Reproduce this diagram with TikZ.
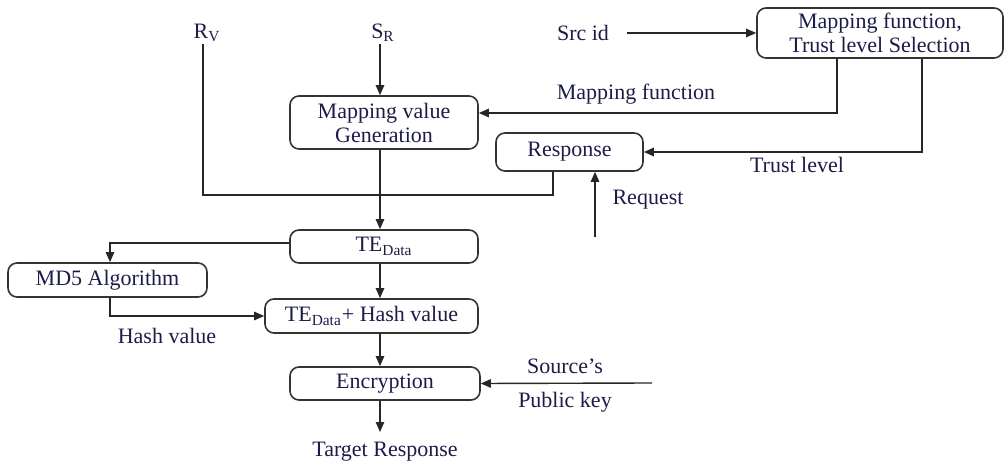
\documentclass[tikz,border=0pt]{standalone}
\usepackage{fontspec}
\setmainfont{Liberation Serif}
\usetikzlibrary{arrows.meta, positioning}
\definecolor{inkblue}{RGB}{28,28,72}
\tikzset{
    block/.style={draw=black!80, line width=0.8pt, rounded corners=4.5pt, align=center,
        text=inkblue, font=\fontsize{11}{12}\selectfont, inner sep=2pt},
    label/.style={text=inkblue, font=\fontsize{11}{12}\selectfont, inner sep=1pt},
    link/.style={draw=black!85, line width=0.7pt},
    arr/.style={link, -{Triangle[length=5pt,width=4.2pt]}}
}
\begin{document}
\begin{tikzpicture}[x=0.5pt, y=-0.5pt]
    \useasboundingbox (0,0) rectangle (1007,464);

    % Boxes
    \node[block, minimum width=123pt, minimum height=25pt] (mfs) at (880,33)
        {Mapping function,\\Trust level Selection};
    \node[block, minimum width=94pt, minimum height=26.5pt] (mvg) at (384,122.5)
        {Mapping value\\Generation};
    \node[block, minimum width=73.5pt, minimum height=19pt] (resp) at (569.5,152) {Response};
    \node[block, minimum width=94pt, minimum height=16.5pt] (ted) at (384,246.5) {TE\textsubscript{Data}};
    \node[block, minimum width=99.5pt, minimum height=17pt] (md5) at (107.5,280) {MD5 Algorithm};
    \node[block, minimum width=106.5pt, minimum height=17pt] (teh) at (371.5,316)
        {TE\textsubscript{Data}+ Hash value};
    \node[block, minimum width=95pt, minimum height=16.5pt] (enc) at (385,383.5) {Encryption};

    % Labels
    \node[label] (rv) at (207,33) {R\textsubscript{V}};
    \node[label] (sr) at (383,33) {S\textsubscript{R}};
    \node[label] (srcid) at (583,33) {Src id};
    \node[label] (mapf) at (636,94) {Mapping function};
    \node[label] (trust) at (797,165) {Trust level};
    \node[label] (req) at (648,200) {Request};
    \node[label] (hash) at (167,336) {Hash value};
    \node[label] (srcs) at (565,366) {Source’s};
    \node[label] (pubkey) at (565,402) {Public key};
    \node[label] (target) at (385,452) {Target Response};

    % Free ends
    \coordinate (rvturn) at (203,195);
    \coordinate (reqin) at (595,237);
    \coordinate (keyin) at (652,383);

    % Connectors
    \draw[link] (rvturn |- rv.south) -- (rvturn) -| ([xshift=-8.25pt]resp.south);
    \draw[arr] ([xshift=-1.5pt]sr.south) -- ([xshift=-2pt]mvg.north);
    \draw[arr] (srcid.east) ++(8pt,0) -- (mfs.west);
    \draw[arr] ([xshift=-21.5pt]mfs.south) |- ([yshift=4.75pt]mvg.east);
    \draw[arr] ([xshift=21pt]mfs.south) |- (resp.east);
    \draw[arr] (reqin) -- (reqin |- resp.south);
    \draw[arr] ([xshift=-2pt]mvg.south) -- ([xshift=-2pt]ted.north);
    \draw[arr] ([yshift=1.75pt]ted.west) -| ([xshift=1.25pt]md5.north);
    \draw[arr] ([xshift=-2pt]ted.south) -- ([xshift=4.25pt]teh.north);
    \draw[arr] ([xshift=1.25pt]md5.south) |- (teh.west);
    \draw[arr] ([xshift=4.25pt]teh.south) -- ([xshift=-2.5pt]enc.north);
    \draw[arr] (keyin) -- (enc.east);
    \draw[arr] ([xshift=-2.5pt]enc.south) -- ([xshift=-2.5pt, yshift=4pt]target.north);
\end{tikzpicture}
\end{document}
